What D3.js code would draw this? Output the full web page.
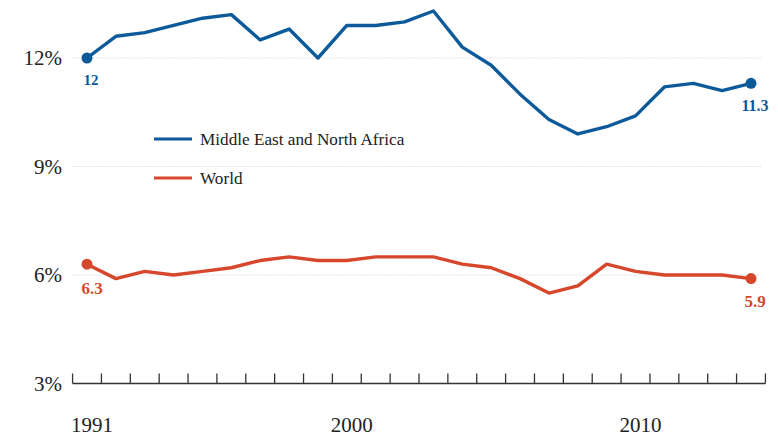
<!DOCTYPE html>
<html>
<head>
<meta charset="utf-8">
<script src="https://cdn.jsdelivr.net/npm/d3@7"></script>
<style>
  body { margin: 0; background: #fff; }
  svg { display: block; font-family: "Liberation Serif", "Times New Roman", serif; }
</style>
</head>
<body>
<div id="chart"></div>
<script>
var years = d3.range(1991, 2015);
var menaValues = [12.0, 12.6, 12.7, 12.9, 13.1, 13.2, 12.5, 12.8, 12.0, 12.9, 12.9, 13.0, 13.3,
                  12.3, 11.8, 11.0, 10.3, 9.9, 10.1, 10.4, 11.2, 11.3, 11.1, 11.3];
var worldValues = [6.3, 5.9, 6.1, 6.0, 6.1, 6.2, 6.4, 6.5, 6.4, 6.4, 6.5, 6.5, 6.5,
                   6.3, 6.2, 5.9, 5.5, 5.7, 6.3, 6.1, 6.0, 6.0, 6.0, 5.9];
var yTicks = [3, 6, 9, 12];
var xLabels = [1991, 2000, 2010];
var seriesNames = ['Middle East and North Africa', 'World'];
var colors = ['#0d5a9b', '#d7472b'];

var W = 778, H = 440;
var svg = d3.select('#chart').append('svg')
    .attr('width', W)
    .attr('height', H);

var x = d3.scaleLinear().domain([1991, 2014]).range([87, 751]);
var y = d3.scaleLinear().domain([3, 12]).range([383.5, 58]);

// gridlines
svg.append('g').selectAll('line')
    .data(yTicks.filter(d => d > 3))
    .enter().append('line')
    .attr('x1', x(1990.5)).attr('x2', x(2014.4))
    .attr('y1', d => y(d)).attr('y2', d => y(d))
    .attr('stroke', '#c8c8c8')
    .attr('stroke-width', 1)
    .attr('stroke-dasharray', '1,2');

// y labels
svg.append('g').selectAll('text')
    .data(yTicks)
    .enter().append('text')
    .attr('x', 62)
    .attr('y', d => y(d) + 7)
    .attr('text-anchor', 'end')
    .attr('font-size', '21px')
    .attr('fill', '#222')
    .text(d => d + '%');

// x axis with year ticks
var tickPos = d3.range(1990.5, 2015, 1);
var axis = svg.append('g').attr('class', 'axis-x');
axis.append('line')
    .attr('x1', x(1990.5)).attr('x2', x(2014.5))
    .attr('y1', y(3)).attr('y2', y(3))
    .attr('stroke', '#333').attr('stroke-width', 1.5);
axis.selectAll('.tick')
    .data(tickPos)
    .enter().append('line')
    .attr('class', 'tick')
    .attr('x1', d => x(d)).attr('x2', d => x(d))
    .attr('y1', y(3)).attr('y2', y(3) - 10)
    .attr('stroke', '#333').attr('stroke-width', 1.3);
axis.selectAll('text')
    .data(xLabels)
    .enter().append('text')
    .attr('x', d => x(d) + 5)
    .attr('y', 432)
    .attr('text-anchor', 'middle')
    .attr('font-size', '21px')
    .attr('fill', '#222')
    .text(d => d);

// lines
var line = d3.line()
    .x((d, i) => x(years[i]))
    .y(d => y(d));

[menaValues, worldValues].forEach(function(vals, k) {
    svg.append('path')
        .datum(vals)
        .attr('fill', 'none')
        .attr('stroke', colors[k])
        .attr('stroke-width', 3.4)
        .attr('stroke-linejoin', 'round')
        .attr('d', line);

    var ends = [0, vals.length - 1];
    svg.selectAll(null)
        .data(ends)
        .enter().append('circle')
        .attr('cx', i => x(years[i]))
        .attr('cy', i => y(vals[i]))
        .attr('r', 5.5)
        .attr('fill', colors[k]);
});

// end labels
var endLabels = [
    {year: 1991, v: menaValues[0], c: colors[0], dx: 4, dy: 27, size: 15},
    {year: 2014, v: menaValues[23], c: colors[0], dx: 4, dy: 28, size: 16},
    {year: 1991, v: worldValues[0], c: colors[1], dx: 5, dy: 30, size: 17},
    {year: 2014, v: worldValues[23], c: colors[1], dx: 4, dy: 28, size: 17}
];
svg.append('g').selectAll('text')
    .data(endLabels)
    .enter().append('text')
    .attr('x', d => x(d.year) + d.dx)
    .attr('y', d => y(d.v) + d.dy)
    .attr('text-anchor', 'middle')
    .attr('font-size', d => d.size + 'px')
    .attr('font-weight', 'bold')
    .attr('fill', d => d.c)
    .text(d => d.v.toFixed(d.v % 1 === 0 ? 0 : 1));

// legend
var legend = svg.append('g').selectAll('g')
    .data(seriesNames)
    .enter().append('g')
    .attr('transform', (d, i) => 'translate(154,' + (139 + i * 39) + ')');
legend.append('line')
    .attr('x1', 0).attr('x2', 38)
    .attr('stroke', (d, i) => colors[i])
    .attr('stroke-width', 3);
legend.append('text')
    .attr('x', 46)
    .attr('y', 6)
    .attr('font-size', '17.2px')
    .attr('fill', '#222')
    .text(d => d);
</script>
</body>
</html>
